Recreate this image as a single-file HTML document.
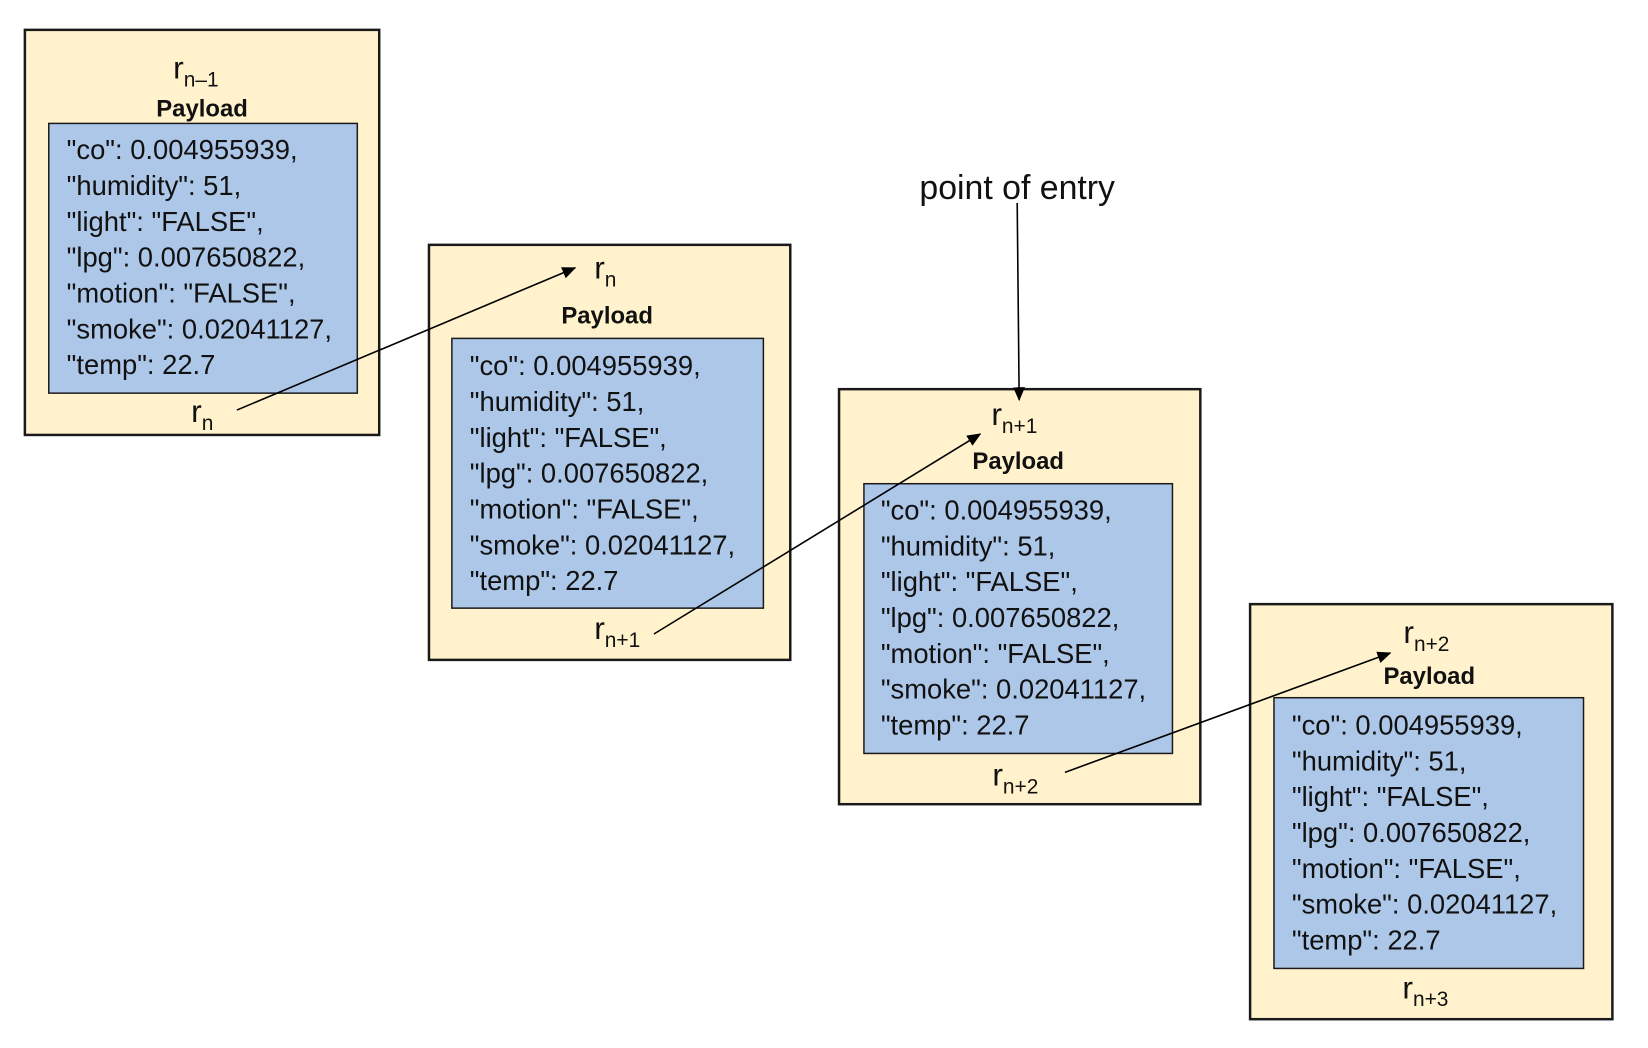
<!DOCTYPE html>
<html><head><meta charset="utf-8"><style>
html,body{margin:0;padding:0;background:#fff;}
svg{display:block;}
text{font-family:"Liberation Sans",sans-serif;fill:#111;}
.j{font-size:27.5px;}
.pl{font-size:24px;font-weight:bold;}
.r{font-size:32px;}
.s{font-size:21px;}
</style></head><body>
<svg width="1648" height="1048" viewBox="0 0 1648 1048" xmlns="http://www.w3.org/2000/svg">
<defs>
<marker id="b" markerWidth="14" markerHeight="14" refX="13" refY="7" orient="auto" markerUnits="userSpaceOnUse" viewBox="0 0 14 14"><path d="M0,1 L14,7 L0,13 z" fill="#000"/></marker></defs>
<g transform="scale(0.9953)">
<!-- Box 1 -->
<rect x="25" y="30" width="356" height="407" fill="#fff2cc" stroke="#1a1a1a" stroke-width="2.5"/>
<rect x="49" y="124" width="310" height="271" fill="#adc7e8" stroke="#1a1a1a" stroke-width="1.5"/>
<text x="174" y="79" class="r">r<tspan class="s" dy="8">n–1</tspan></text>
<text x="203" y="117" class="pl" text-anchor="middle">Payload</text>
<g class="j"><text x="67" y="160">"co": 0.004955939,</text><text x="67" y="196">"humidity": 51,</text><text x="67" y="232">"light": "FALSE",</text><text x="67" y="268">"lpg": 0.007650822,</text><text x="67" y="304">"motion": "FALSE",</text><text x="67" y="340">"smoke": 0.02041127,</text><text x="67" y="376">"temp": 22.7</text></g>
<text x="192" y="424" class="r">r<tspan class="s" dy="8">n</tspan></text>

<!-- Box 2 -->
<rect x="431" y="246" width="363" height="417" fill="#fff2cc" stroke="#1a1a1a" stroke-width="2.5"/>
<rect x="454" y="340" width="313" height="271" fill="#adc7e8" stroke="#1a1a1a" stroke-width="1.5"/>
<text x="597" y="280" class="r">r<tspan class="s" dy="8">n</tspan></text>
<text x="610" y="325" class="pl" text-anchor="middle">Payload</text>
<g class="j"><text x="472" y="377">"co": 0.004955939,</text><text x="472" y="413">"humidity": 51,</text><text x="472" y="449">"light": "FALSE",</text><text x="472" y="485">"lpg": 0.007650822,</text><text x="472" y="521">"motion": "FALSE",</text><text x="472" y="557">"smoke": 0.02041127,</text><text x="472" y="593">"temp": 22.7</text></g>
<text x="597" y="642" class="r">r<tspan class="s" dy="8">n+1</tspan></text>

<!-- Box 3 -->
<rect x="843" y="391" width="363" height="417" fill="#fff2cc" stroke="#1a1a1a" stroke-width="2.5"/>
<rect x="868" y="486" width="310" height="271" fill="#adc7e8" stroke="#1a1a1a" stroke-width="1.5"/>
<text x="996" y="427" class="r">r<tspan class="s" dy="8">n+1</tspan></text>
<text x="1023" y="471" class="pl" text-anchor="middle">Payload</text>
<g class="j"><text x="885" y="522">"co": 0.004955939,</text><text x="885" y="558">"humidity": 51,</text><text x="885" y="594">"light": "FALSE",</text><text x="885" y="630">"lpg": 0.007650822,</text><text x="885" y="666">"motion": "FALSE",</text><text x="885" y="702">"smoke": 0.02041127,</text><text x="885" y="738">"temp": 22.7</text></g>
<text x="997" y="789" class="r">r<tspan class="s" dy="8">n+2</tspan></text>

<!-- Box 4 -->
<rect x="1256" y="607" width="364" height="417" fill="#fff2cc" stroke="#1a1a1a" stroke-width="2.5"/>
<rect x="1280" y="701" width="311" height="272" fill="#adc7e8" stroke="#1a1a1a" stroke-width="1.5"/>
<text x="1410" y="646" class="r">r<tspan class="s" dy="8">n+2</tspan></text>
<text x="1436" y="687" class="pl" text-anchor="middle">Payload</text>
<g class="j"><text x="1298" y="738">"co": 0.004955939,</text><text x="1298" y="774">"humidity": 51,</text><text x="1298" y="810">"light": "FALSE",</text><text x="1298" y="846">"lpg": 0.007650822,</text><text x="1298" y="882">"motion": "FALSE",</text><text x="1298" y="918">"smoke": 0.02041127,</text><text x="1298" y="954">"temp": 22.7</text></g>
<text x="1409" y="1003" class="r">r<tspan class="s" dy="8">n+3</tspan></text>

<!-- entry -->
<text x="1022" y="200" text-anchor="middle" style="font-size:34px">point of entry</text>
<line x1="1022" y1="204" x2="1024" y2="402" stroke="#000" stroke-width="1.6" marker-end="url(#b)"/>

<!-- arrows -->
<line x1="238" y1="412" x2="578" y2="269" stroke="#000" stroke-width="1.6" marker-end="url(#b)"/>
<line x1="657" y1="637" x2="985" y2="436" stroke="#000" stroke-width="1.6" marker-end="url(#b)"/>
<line x1="1070" y1="776" x2="1397" y2="656" stroke="#000" stroke-width="1.6" marker-end="url(#b)"/>
</g>
</svg>
</body></html>
